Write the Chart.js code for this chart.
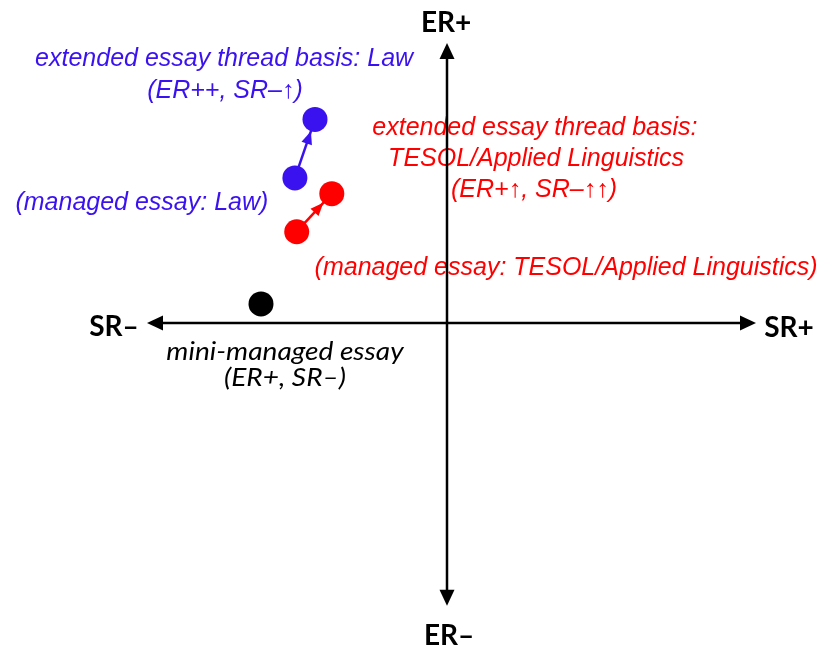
<!DOCTYPE html>
<html lang="en">

<head>
    <meta charset="UTF-8">
    <title>Essay types on the ER / SR axes</title>
    <script src="https://cdn.jsdelivr.net/npm/chart.js"></script>
    <style>
        body {
            margin: 0;
            padding: 0;
            background-color: #fff;
        }

        #wrap {
            width: 825px;
            height: 650px;
        }
    </style>
</head>

<body>
    <div id="wrap">
        <canvas id="essayChart" width="825" height="650"></canvas>
    </div>

    <script>
        // axis extents (SR horizontal, ER vertical)
        const srAxis = [-10, 10.3];
        const erAxis = [-10.1, 10];

        // essay positions [SR, ER]
        const managedLaw = [-5.07, 5.18];
        const extendedLaw = [-4.4, 7.27];
        const managedTesol = [-5.01, 3.26];
        const extendedTesol = [-3.84, 4.62];
        const miniManaged = [-6.2, 0.68];

        // labels
        const axisLabels = ['ER+', 'ER–', 'SR–', 'SR+'];
        const lawLabels = ['extended essay thread basis: Law', '(ER++, SR–↑)', '(managed essay: Law)'];
        const tesolLabels = ['extended essay thread basis:', 'TESOL/Applied Linguistics', '(ER+↑, SR–↑↑)',
            '(managed essay: TESOL/Applied Linguistics)'];
        const miniLabels = ['mini-managed essay', '(ER+, SR–)'];

        const BLUE = '#3a12f0';
        const RED = '#ff0000';
        const BLACK = '#000000';

        const pt = (p) => ({ x: p[0], y: p[1] });

        const AXIS_FONT = 'bold 28px Lato';
        const NOTE_FONT = 'italic 25px "Liberation Sans"';
        const MINI_FONT = 'italic 26px Lato';

        // text placements (data units), drawn under the axis lines; sx = horizontal stretch
        const notes = [
            { text: axisLabels[0], at: [-0.03, 10.39], font: AXIS_FONT, color: BLACK },
            { text: axisLabels[1], at: [0.07, -11.5], font: AXIS_FONT, color: BLACK },
            { text: axisLabels[2], at: [-11.1, -0.45], font: AXIS_FONT, color: BLACK },
            { text: axisLabels[3], at: [11.4, -0.5], font: AXIS_FONT, color: BLACK },
            { text: lawLabels[0], at: [-7.43, 9.18], font: NOTE_FONT, color: BLUE },
            { text: lawLabels[1], at: [-7.4, 8.04], font: NOTE_FONT, color: BLUE },
            { text: lawLabels[2], at: [-10.17, 4.04], font: NOTE_FONT, color: BLUE },
            { text: tesolLabels[0], at: [2.93, 6.71], font: NOTE_FONT, color: RED },
            { text: tesolLabels[1], at: [2.97, 5.61], font: NOTE_FONT, color: RED },
            { text: tesolLabels[2], at: [2.9, 4.5], font: NOTE_FONT, color: RED },
            { text: tesolLabels[3], at: [3.97, 1.71], font: NOTE_FONT, color: RED },
            { text: miniLabels[0], at: [-5.4, -1.32], font: MINI_FONT, color: BLACK, sx: 1.08 },
            { text: miniLabels[1], at: [-5.4, -2.25], font: MINI_FONT, color: BLACK, sx: 1.08 }
        ];

        function arrowHead(ctx, fromX, fromY, toX, toY, len, half, color) {
            const ang = Math.atan2(toY - fromY, toX - fromX);
            ctx.save();
            ctx.translate(toX, toY);
            ctx.rotate(ang);
            ctx.fillStyle = color;
            ctx.beginPath();
            ctx.moveTo(0, 0);
            ctx.lineTo(-len, -half);
            ctx.lineTo(-len, half);
            ctx.closePath();
            ctx.fill();
            ctx.restore();
        }

        const notesPlugin = {
            id: 'notes',
            beforeDatasetsDraw(chart) {
                const ctx = chart.ctx;
                const xs = chart.scales.x;
                const ys = chart.scales.y;
                notes.forEach(n => {
                    ctx.save();
                    ctx.textAlign = 'center';
                    ctx.textBaseline = 'alphabetic';
                    ctx.font = n.font;
                    ctx.fillStyle = n.color;
                    ctx.translate(xs.getPixelForValue(n.at[0]), ys.getPixelForValue(n.at[1]));
                    ctx.scale(n.sx || 1, 1);
                    ctx.fillText(n.text, 0, 0);
                    ctx.restore();
                });
            },
            afterDatasetsDraw(chart) {
                const ctx = chart.ctx;
                const xs = chart.scales.x;
                const ys = chart.scales.y;
                const px = (p) => [xs.getPixelForValue(p[0]), ys.getPixelForValue(p[1])];

                // axis arrowheads
                const o = px([0, 0]);
                const left = px([srAxis[0], 0]);
                const right = px([srAxis[1], 0]);
                const bottom = px([0, erAxis[0]]);
                const top = px([0, erAxis[1]]);
                arrowHead(ctx, o[0], o[1], left[0], left[1], 16, 7.5, BLACK);
                arrowHead(ctx, o[0], o[1], right[0], right[1], 16, 7.5, BLACK);
                arrowHead(ctx, o[0], o[1], top[0], top[1], 16, 7.5, BLACK);
                arrowHead(ctx, o[0], o[1], bottom[0], bottom[1], 16, 7.5, BLACK);

                // movement arrows: tip sits on the edge of the target dot
                [[managedLaw, extendedLaw, BLUE], [managedTesol, extendedTesol, RED]].forEach(([a, b, c]) => {
                    const p0 = px(a);
                    const p1 = px(b);
                    const d = Math.hypot(p1[0] - p0[0], p1[1] - p0[1]);
                    const r = 12.5;
                    const tx = p1[0] - (p1[0] - p0[0]) * r / d;
                    const ty = p1[1] - (p1[1] - p0[1]) * r / d;
                    arrowHead(ctx, p0[0], p0[1], tx, ty, 13, 5.5, c);
                });
            }
        };

        const ctx = document.getElementById('essayChart').getContext('2d');
        new Chart(ctx, {
            type: 'scatter',
            data: {
                datasets: [
                    {
                        label: 'essays',
                        data: [managedLaw, extendedLaw, managedTesol, extendedTesol, miniManaged].map(pt),
                        backgroundColor: [BLUE, BLUE, RED, RED, BLACK],
                        borderColor: [BLUE, BLUE, RED, RED, BLACK],
                        borderWidth: 0,
                        pointRadius: 12.5,
                        order: 0
                    },
                    {
                        type: 'line',
                        label: 'law shift',
                        data: [managedLaw, extendedLaw].map(pt),
                        borderColor: BLUE,
                        borderWidth: 2.5,
                        pointRadius: 0,
                        order: 1
                    },
                    {
                        type: 'line',
                        label: 'tesol shift',
                        data: [managedTesol, extendedTesol].map(pt),
                        borderColor: RED,
                        borderWidth: 2.5,
                        pointRadius: 0,
                        order: 1
                    },
                    {
                        type: 'line',
                        label: 'SR axis',
                        data: [{ x: srAxis[0] + 0.4, y: 0 }, { x: srAxis[1] - 0.4, y: 0 }],
                        borderColor: BLACK,
                        borderWidth: 2.5,
                        pointRadius: 0,
                        order: 2
                    },
                    {
                        type: 'line',
                        label: 'ER axis',
                        data: [{ x: 0, y: erAxis[0] + 0.4 }, { x: 0, y: erAxis[1] - 0.4 }],
                        borderColor: BLACK,
                        borderWidth: 2.5,
                        pointRadius: 0,
                        order: 2
                    }
                ]
            },
            options: {
                responsive: false,
                animation: false,
                layout: {
                    padding: { left: 87, right: 18, top: 15, bottom: 19 }
                },
                plugins: {
                    legend: { display: false },
                    tooltip: { enabled: false }
                },
                scales: {
                    x: { type: 'linear', min: -12, max: 12, display: false },
                    y: { type: 'linear', min: -11, max: 11, display: false }
                }
            },
            plugins: [notesPlugin]
        });
    </script>
</body>

</html>
